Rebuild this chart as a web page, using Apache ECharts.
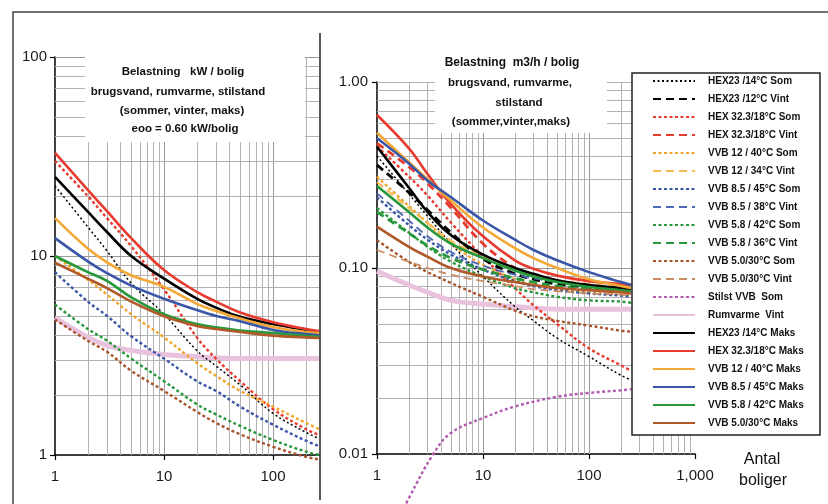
<!DOCTYPE html>
<html>
<head>
<meta charset="utf-8">
<script src="https://cdn.jsdelivr.net/npm/echarts@6/dist/echarts.min.js"></script>
<style>
  html, body { margin: 0; background: #fff; }
  #chart { width: 828px; height: 504px; }
</style>
</head>
<body>
<div id="chart"></div>
<script>
// legend order, as in the reference
const names = [
  "HEX23 /14°C Som", "HEX23 /12°C Vint", "HEX 32.3/18°C Som", "HEX 32.3/18°C Vint",
  "VVB 12 / 40°C Som", "VVB 12 / 34°C Vint", "VVB 8.5 / 45°C Som", "VVB 8.5 / 38°C Vint",
  "VVB 5.8 / 42°C Som", "VVB 5.8 / 36°C Vint", "VVB 5.0/30°C Som", "VVB 5.0/30°C Vint",
  "Stilst VVB  Som", "Rumvarme  Vint",
  "HEX23 /14°C Maks", "HEX 32.3/18°C Maks", "VVB 12 / 40°C Maks",
  "VVB 8.5 / 45°C Maks", "VVB 5.8 / 42°C Maks", "VVB 5.0/30°C Maks"
];
const somNames = [names[0], names[2], names[4], names[6], names[8], names[10]];
const vintNames = [names[1], names[3], names[5], names[7], names[9], names[11]];
const maksNames = names.slice(14);

// left panel: kW / bolig
const kwX = [1, 2, 3, 5, 10, 20, 30, 50, 100, 200, 264];
const kwSom = [
  [22.5, 14, 10.6, 7.3, 5.1, 3.35, 2.8, 2.25, 1.62, 1.3, 1.21],
  [30, 20, 15.5, 11.2, 6.8, 3.9, 3.05, 2.35, 1.7, 1.35, 1.26],
  [10, 7.6, 6.4, 5.1, 3.9, 2.9, 2.5, 2.1, 1.75, 1.45, 1.35],
  [8.3, 5.9, 5.0, 3.95, 3.05, 2.35, 2.1, 1.75, 1.42, 1.18, 1.11],
  [5.7, 4.3, 3.75, 3.05, 2.35, 1.8, 1.6, 1.4, 1.19, 1.04, 1.0],
  [4.8, 3.75, 3.3, 2.65, 2.1, 1.65, 1.45, 1.27, 1.1, 0.98, 0.95]
];
const kwMaks = [
  [25, 16.7, 13.2, 10, 7.7, 6.1, 5.5, 4.95, 4.55, 4.25, 4.15],
  [33, 21.5, 16.8, 12.3, 8.5, 6.6, 5.9, 5.2, 4.65, 4.3, 4.2],
  [15.5, 10.9, 9.3, 8.0, 7.0, 5.75, 5.3, 4.85, 4.4, 4.15, 4.1],
  [12.3, 9.4, 8.2, 7.1, 6.1, 5.35, 5.0, 4.7, 4.25, 4.05, 4.0],
  [10, 8.3, 7.5, 6.2, 5.1, 4.55, 4.38, 4.22, 4.1, 3.97, 3.93],
  [9.25, 7.7, 6.9, 5.9, 4.98, 4.45, 4.3, 4.15, 3.98, 3.9, 3.87]
];
const kwRum = [4.9, 3.9, 3.55, 3.35, 3.2, 3.12, 3.08, 3.05, 3.05, 3.05, 3.05];

// right panel: m3/h / bolig
const m3X = [1, 2, 3, 5, 10, 20, 30, 50, 100, 200, 250];
const m3Som = [
  [0.40, 0.25, 0.19, 0.135, 0.09, 0.062, 0.052, 0.042, 0.0334, 0.0265, 0.025],
  [0.45, 0.31, 0.245, 0.175, 0.115, 0.078, 0.063, 0.05, 0.037, 0.030, 0.028],
  [0.31, 0.215, 0.175, 0.135, 0.104, 0.087, 0.081, 0.077, 0.074, 0.072, 0.072],
  [0.24, 0.17, 0.142, 0.118, 0.098, 0.085, 0.08, 0.076, 0.073, 0.071, 0.07],
  [0.21, 0.155, 0.13, 0.108, 0.09, 0.078, 0.074, 0.07, 0.067, 0.066, 0.065],
  [0.141, 0.108, 0.095, 0.083, 0.07, 0.059, 0.055, 0.052, 0.049, 0.046, 0.0455]
];
const m3Vint = [
  [0.358, 0.255, 0.205, 0.155, 0.112, 0.093, 0.087, 0.082, 0.079, 0.077, 0.076],
  [0.468, 0.35, 0.285, 0.21, 0.135, 0.1, 0.091, 0.085, 0.08, 0.078, 0.077],
  [0.29, 0.21, 0.175, 0.14, 0.115, 0.098, 0.091, 0.086, 0.082, 0.079, 0.078],
  [0.252, 0.18, 0.148, 0.122, 0.103, 0.092, 0.088, 0.084, 0.081, 0.079, 0.078],
  [0.2, 0.154, 0.132, 0.113, 0.098, 0.088, 0.084, 0.08, 0.077, 0.075, 0.074],
  [0.125, 0.108, 0.1, 0.092, 0.085, 0.08, 0.077, 0.075, 0.073, 0.072, 0.071]
];
const m3Maks = [
  [0.449, 0.27, 0.2, 0.15, 0.118, 0.1, 0.093, 0.086, 0.081, 0.078, 0.077],
  [0.665, 0.44, 0.32, 0.22, 0.148, 0.11, 0.099, 0.091, 0.085, 0.082, 0.081],
  [0.534, 0.37, 0.3, 0.23, 0.165, 0.128, 0.113, 0.1, 0.087, 0.08, 0.078],
  [0.498, 0.365, 0.295, 0.24, 0.18, 0.142, 0.125, 0.11, 0.095, 0.084, 0.081],
  [0.276, 0.2, 0.165, 0.135, 0.113, 0.097, 0.09, 0.084, 0.079, 0.076, 0.075],
  [0.167, 0.13, 0.115, 0.1, 0.09, 0.084, 0.081, 0.078, 0.076, 0.074, 0.073]
];
const m3Rum = [0.096, 0.081, 0.074, 0.067, 0.064, 0.062, 0.061, 0.06, 0.06, 0.06, 0.06];
const stilstX = [1.8, 2, 3.4, 5, 10, 20, 50, 100, 200, 250];
const stilstY = [0.0051, 0.0058, 0.01, 0.013, 0.0156, 0.018, 0.0203, 0.0213, 0.022, 0.0223];

// tick labels and grid lines
const kwXTicks = [1, 10, 100];
const kwYTicks = [1, 10, 100];
const m3XTicks = [1, 10, 100, 1000];
const m3YTicks = [0.01, 0.1, 1];
const kwXGrid = [2, 3, 4, 5, 6, 7, 8, 9, 10, 20, 30, 40, 50, 60, 70, 80, 90, 100, 200];
const kwYGrid = [2, 3, 4, 5, 6, 7, 8, 9, 10, 20, 30, 40, 50, 60, 70, 80, 90, 100];
const m3XGrid = [2, 3, 4, 5, 6, 7, 8, 9, 10, 20, 30, 40, 50, 60, 70, 80, 90, 100,
  200, 300, 400, 500, 600, 700, 800, 900];
const m3YGrid = [0.02, 0.03, 0.04, 0.05, 0.06, 0.07, 0.08, 0.09, 0.1,
  0.2, 0.3, 0.4, 0.5, 0.6, 0.7, 0.8, 0.9, 1];
const majors = [10, 100, 0.1];

const red = "#e63b2e", orange = "#f2a42a", blue = "#3a57a7", green = "#27983b", brown = "#a8542a";
const dots = [3, 2.5], dash = [8, 5];
const styles = {};
styles[names[0]] = { color: "#000", width: 1.5, type: [2, 2.5] };
styles[names[1]] = { color: "#000", width: 2.8, type: dash };
styles[names[2]] = { color: red, width: 2.4, type: dots };
styles[names[3]] = { color: red, width: 2.8, type: dash };
styles[names[4]] = { color: orange, width: 2.4, type: dots };
styles[names[5]] = { color: "#f7bb58", width: 2.2, type: dash };
styles[names[6]] = { color: blue, width: 2.4, type: dots };
styles[names[7]] = { color: "#4d69b5", width: 1.8, type: dash };
styles[names[8]] = { color: green, width: 2.4, type: dots };
styles[names[9]] = { color: green, width: 2.8, type: dash };
styles[names[10]] = { color: brown, width: 2.4, type: dots };
styles[names[11]] = { color: "#c98c64", width: 1.8, type: dash };
styles[names[12]] = { color: "#b25cb0", width: 2.4, type: dots };
styles[names[13]] = { color: "#e9c3de", width: 5, type: "solid" };
const maksColors = ["#000", red, "#f3a835", blue, green, "#b05a2a"];
maksNames.forEach((n, i) => { styles[n] = { color: maksColors[i], width: 2.6, type: "solid" }; });

const font = "Liberation Sans";
const isPow10 = (v) => { const l = Math.log10(v); return Math.abs(l - Math.round(l)) < 1e-6; };

function line(name, xs, ys, gi) {
  const s = styles[name];
  return {
    type: "line", name, xAxisIndex: gi, yAxisIndex: gi,
    data: xs.map((x, i) => [x, ys[i]]),
    smooth: 0.4, symbol: "none", clip: false,
    color: s.color,
    lineStyle: { color: s.color, width: s.width, type: s.type },
    emphasis: { disabled: true }
  };
}

function gridLines(gi, xs, ys, yMin) {
  const major = { color: "#999", width: 1 };
  return {
    type: "line", xAxisIndex: gi, yAxisIndex: gi, data: [[1, yMin]],
    symbol: "none", silent: true, lineStyle: { opacity: 0 },
    markLine: {
      silent: true, z: 1, animation: false, symbol: ["none", "none"],
      label: { show: false }, emphasis: { disabled: true },
      lineStyle: { color: "#b3b3b3", width: 1, type: "solid" },
      data: xs.map((v) => (majors.includes(v) ? { xAxis: v, lineStyle: major } : { xAxis: v }))
        .concat(ys.map((v) => (majors.includes(v) ? { yAxis: v, lineStyle: major } : { yAxis: v })))
    }
  };
}

function axis(gi, min, max, ticks, fmt, margin) {
  return {
    type: "log", logBase: 10, gridIndex: gi, min, max,
    axisLine: { show: true, onZero: false, lineStyle: { color: "#000", width: 1.5 } },
    axisTick: { show: true, length: 5, customValues: ticks, lineStyle: { color: "#000", width: 1.2 } },
    axisLabel: {
      customValues: ticks, margin, fontSize: 15, color: "#1a1a1a", fontFamily: font,
      formatter: (v) => (isPow10(v) ? fmt(v) : "")
    },
    splitLine: { show: false },
    minorTick: { show: false }
  };
}

const series = [];
series.push(gridLines(0, kwXGrid, kwYGrid, 1));
series.push(gridLines(1, m3XGrid, m3YGrid, 0.01));
series.push(line(names[13], kwX, kwRum, 0));
somNames.forEach((n, i) => series.push(line(n, kwX, kwSom[i], 0)));
maksNames.forEach((n, i) => series.push(line(n, kwX, kwMaks[i], 0)));
series.push(line(names[13], m3X, m3Rum, 1));
series.push(line(names[12], stilstX, stilstY, 1));
somNames.forEach((n, i) => series.push(line(n, m3X, m3Som[i], 1)));
vintNames.forEach((n, i) => series.push(line(n, m3X, m3Vint[i], 1)));
maksNames.forEach((n, i) => series.push(line(n, m3X, m3Maks[i], 1)));

function text(str, x, y, size, weight) {
  return {
    type: "text", x, y, z: 8, silent: true,
    style: {
      text: str, fill: "#111", textAlign: "center", textVerticalAlign: "middle",
      font: (weight || "normal") + " " + size + 'px "' + font + '"'
    }
  };
}

const chart = echarts.init(document.getElementById("chart"));
chart.setOption({
  animation: false,
  backgroundColor: "#fff",
  grid: [
    { left: 55, top: 57, width: 264, height: 398, outerBoundsMode: "none" },
    { left: 377, top: 82, width: 318, height: 372, outerBoundsMode: "none" }
  ],
  xAxis: [
    axis(0, 1, 264, kwXTicks, (v) => String(Math.round(v)), 14),
    axis(1, 1, 1000, m3XTicks, (v) => Math.round(v).toLocaleString("en-US"), 14)
  ],
  yAxis: [
    axis(0, 1, 100, kwYTicks, (v) => String(Math.round(v)), 8),
    axis(1, 0.01, 1, m3YTicks, (v) => v.toFixed(2), 9)
  ],
  legend: {
    data: names, orient: "vertical", left: 652, top: 75, z: 20, padding: 0,
    itemWidth: 42, itemHeight: 12, itemGap: 6, selectedMode: false,
    itemStyle: { opacity: 0 },
    textStyle: { fontSize: 10, fontWeight: "bold", fontFamily: font, color: "#111", lineHeight: 12, padding: [0, 0, 0, 8] }
  },
  graphic: [
    { type: "rect", silent: true, z: 3, shape: { x: 85, y: 45, width: 220, height: 97 }, style: { fill: "#fff" } },
    { type: "rect", silent: true, z: 3, shape: { x: 435, y: 60, width: 172, height: 73 }, style: { fill: "#fff" } },
    { type: "rect", silent: true, z: 6, shape: { x: 632, y: 73, width: 188, height: 362 },
      style: { fill: "#fff", stroke: "#222", lineWidth: 1.5 } },
    { type: "polyline", silent: true, z: 10, shape: { points: [[13, 504], [13, 12], [828, 12]] },
      style: { stroke: "#444", lineWidth: 1.5, fill: null } },
    { type: "line", silent: true, z: 10, shape: { x1: 320, y1: 33, x2: 320, y2: 500 },
      style: { stroke: "#222", lineWidth: 1.5 } },
    text("Belastning   kW / bolig", 183, 72, 11.5, "bold"),
    text("brugsvand, rumvarme, stilstand", 178, 92, 11.5, "bold"),
    text("(sommer, vinter, maks)", 182, 111, 11.5, "bold"),
    text("eoo = 0.60 kW/bolig", 185, 129, 11.5, "bold"),
    text("Belastning  m3/h / bolig", 512, 63, 12, "bold"),
    text("brugsvand, rumvarme,", 510, 83, 11.5, "bold"),
    text("stilstand", 519, 103, 11.5, "bold"),
    text("(sommer,vinter,maks)", 511, 122, 11.5, "bold"),
    text("Antal", 762, 460, 16),
    text("boliger", 763, 481, 16)
  ],
  series
});
</script>
</body>
</html>
